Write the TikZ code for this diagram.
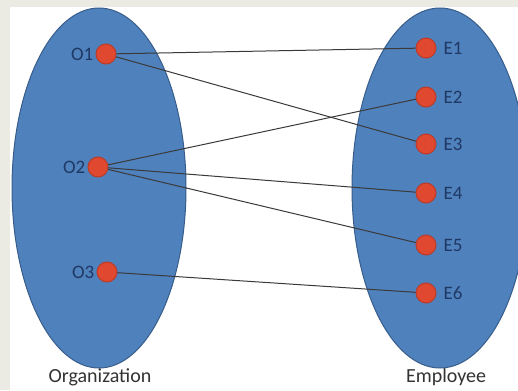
\documentclass[tikz,border=0pt]{standalone}
\usepackage{fontspec}
\setmainfont{Carlito}
\usetikzlibrary{positioning}

\definecolor{pagegray}{HTML}{EBEBE4}
\definecolor{setblue}{HTML}{4F81BD}
\definecolor{setedge}{HTML}{385D8A}
\definecolor{dotred}{HTML}{E0492F}
\definecolor{dotedge}{HTML}{B93C2A}
\definecolor{lblnavy}{HTML}{1F3864}
\definecolor{wire}{HTML}{3A3A3A}

\tikzset{
    setfill/.style={fill=setblue, draw=setedge, line width=1pt},
    dot/.style={circle, fill=dotred, draw=dotedge, line width=1pt, minimum size=20pt, inner sep=0pt},
    lbl/.style={text=lblnavy, inner sep=1pt, font=\fontsize{19}{22}\selectfont},
    setname/.style={text=black!80, font=\fontsize{20}{24}\selectfont},
    wire/.style={draw=wire, line width=1pt}
}

\begin{document}
\begin{tikzpicture}[x=1pt, y=-1pt]
    \useasboundingbox (0, 0) rectangle (518, 390);
    \clip (0, 0) rectangle (518, 390);
    \fill[pagegray] (0, 0) rectangle (518, 390);
    \fill[white] (10, 7) rectangle (518, 390);

    % the two sets
    \draw[setfill] (99, 188) ellipse [x radius=87, y radius=180];
    \draw[setfill] (440, 188) ellipse [x radius=88, y radius=180];

    % organizations
    \node[dot] (o1) at (106, 54) {};
    \node[dot] (o2) at (98, 167) {};
    \node[dot] (o3) at (107, 272) {};
    \node[lbl, left=1pt of o1] (o1l) {O1};
    \node[lbl, left=1pt of o2] (o2l) {O2};
    \node[lbl, left=1pt of o3] (o3l) {O3};

    % employees
    \foreach \i/\y in {1/48, 2/97, 3/144, 4/193, 5/245, 6/293} {
        \node[dot] (e\i) at (426, \y) {};
        \node[lbl, right=6pt of e\i] (e\i l) {E\i};
    }

    \node[setname] (org) at (100, 377) {Organization};
    \node[setname] (emp) at (446, 377) {Employee};

    % mapping
    \draw[wire] (o1) -- (e1);
    \draw[wire] (o1) -- (e3);
    \draw[wire] (o2) -- (e2);
    \draw[wire] (o2) -- (e4);
    \draw[wire] (o2) -- (e5);
    \draw[wire] (o3) -- (e6);
\end{tikzpicture}
\end{document}
